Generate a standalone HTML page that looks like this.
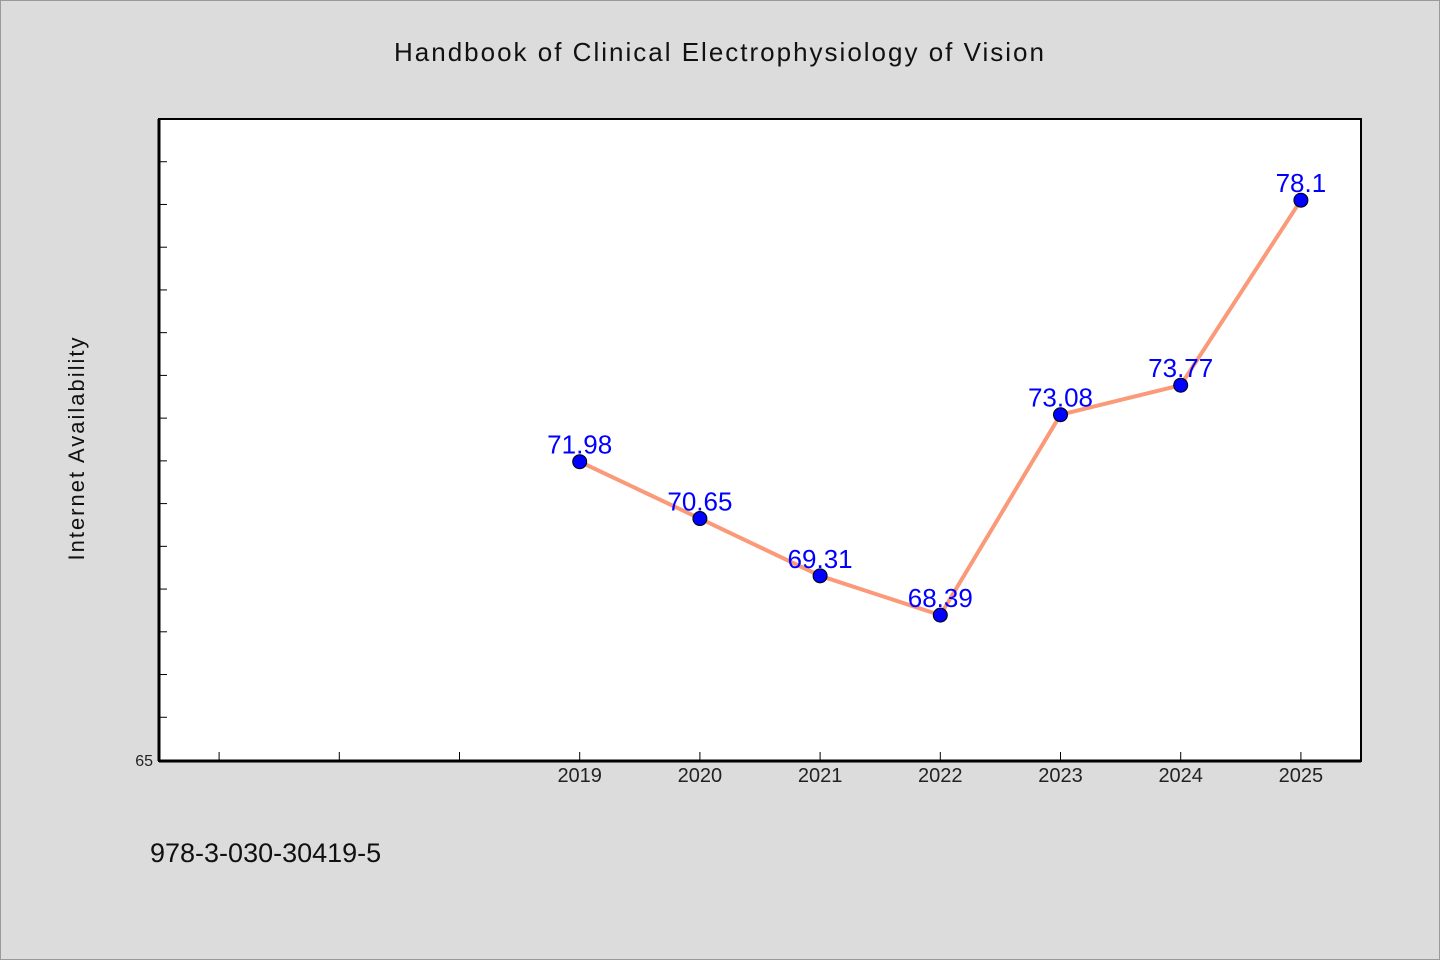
<!DOCTYPE html>
<html><head><meta charset="utf-8"><style>
html,body{margin:0;padding:0;background:#dcdcdc;}
svg{display:block;font-family:"WenQuanYi Zen Hei","Liberation Sans",sans-serif;}
</style></head><body>
<svg id="chart" width="1440" height="960">
<rect x="0.5" y="0.5" width="1439" height="959" fill="#dcdcdc" stroke="#999"/>
<text x="720" y="61" text-anchor="middle" font-size="26" letter-spacing="2" fill="#111">Handbook of Clinical Electrophysiology of Vision</text>
<rect x="159" y="119" width="1202" height="642" fill="#fff" stroke="#000" stroke-width="2"/>
<line x1="159" y1="119" x2="159" y2="761" stroke="#000" stroke-width="3"/>
<line x1="159" y1="761" x2="1361" y2="761" stroke="#000" stroke-width="3"/>
<text transform="translate(84,448) rotate(-90)" text-anchor="middle" font-size="22" letter-spacing="2" fill="#111">Internet Availability</text>
<text x="150" y="862" font-size="27" fill="#111">978-3-030-30419-5</text>
<g id="ticks"></g><g id="series"></g>
</svg>
<script>
const years = [2019, 2020, 2021, 2022, 2023, 2024, 2025];
const values = [71.98, 70.65, 69.31, 68.39, 73.08, 73.77, 78.1];
const valueLabels = ["71.98", "70.65", "69.31", "68.39", "73.08", "73.77", "78.1"];
const yMin = 65, yMax = 80, xMin = 2015.5, xMax = 2025.5;
const L = 159, R = 1361, T = 119, B = 760;
const NS = "http://www.w3.org/2000/svg";
function xs(v){return L + (v - xMin) / (xMax - xMin) * (R - L);}
function ys(v){return B - (v - yMin) / (yMax - yMin) * (B - T);}
function mk(tag, attrs, parent){const e=document.createElementNS(NS,tag);for(const k in attrs)e.setAttribute(k,attrs[k]);parent.appendChild(e);return e;}
const tg = document.getElementById('ticks');
for (let v = yMin + 1; v < yMax; v++) {
  const t = mk('line', {x1:L, x2:L+8, y1:ys(v), y2:ys(v), stroke:'#000', 'stroke-width':1}, tg);
  
  
}
const yl = mk('text', {x:L-6, y:B+6, 'text-anchor':'end', 'font-size':16, fill:'#222'}, tg);
yl.textContent = String(yMin);


for (let yr = 2016; yr <= 2025; yr++) {
  const t = mk('line', {x1:xs(yr), x2:xs(yr), y1:B-8, y2:B, stroke:'#000', 'stroke-width':1}, tg);
  
  
}
years.forEach(yr => {
  const t = mk('text', {x:xs(yr), y:782, 'text-anchor':'middle', 'font-size':20, fill:'#222'}, tg);
  t.textContent = String(yr);
  
  
});
const sg = document.getElementById('series');
const pts = years.map((yr,i) => xs(yr) + ',' + ys(values[i])).join(' ');
const line = mk('polyline', {points:pts, fill:'none', stroke:'#fa9a78', 'stroke-width':4, 'stroke-linejoin':'round'}, sg);


years.forEach((yr,i) => {
  const c = mk('circle', {cx:xs(yr), cy:ys(values[i]), r:7, fill:'#0000ff', stroke:'#000', 'stroke-width':1}, sg);
  
  
});
years.forEach((yr,i) => {
  const t = mk('text', {x:xs(yr), y:ys(values[i]) - 8, 'text-anchor':'middle', 'font-size':26, fill:'#0000ff'}, sg);
  t.textContent = valueLabels[i];
  
  
});
</script>
</body></html>
